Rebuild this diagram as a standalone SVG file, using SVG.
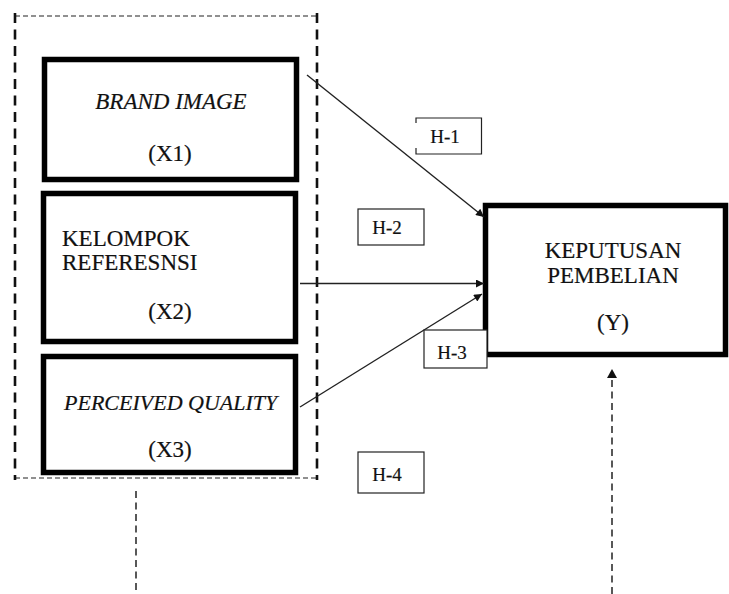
<svg xmlns="http://www.w3.org/2000/svg" width="729" height="594" viewBox="0 0 729 594">
<defs>
<style>
.box{fill:#fff;stroke:#000;stroke-width:5.5}
.hbox{fill:#fff;stroke:#222;stroke-width:1.2}
.t{font-family:"Liberation Serif","Times New Roman",serif;font-size:23px;fill:#111;stroke:#111;stroke-width:0.2}
.it{font-style:italic}
.h{font-family:"Liberation Serif","Times New Roman",serif;font-size:19px;fill:#111;stroke:#111;stroke-width:0.2;text-anchor:middle}
.mid{text-anchor:middle}
.arr{stroke:#222;stroke-width:1.4;fill:none;marker-end:url(#ah)}
.dthin{stroke:#222;stroke-width:1.2;fill:none;stroke-dasharray:5,3}
.dthick{stroke:#111;stroke-width:2.6;fill:none;stroke-dasharray:10,6.5}
.dv{stroke:#222;stroke-width:1.5;fill:none;stroke-dasharray:7,4.5}
</style>
<marker id="ah" viewBox="0 0 10 10" refX="10" refY="5" markerWidth="10" markerHeight="8" markerUnits="userSpaceOnUse" orient="auto">
<path d="M0,0 L10,5 L0,10 z" fill="#111"/>
</marker>
</defs>

<g id="group-frame">
<line class="dthin" x1="15" y1="16" x2="317" y2="16"/>
<line class="dthin" x1="15" y1="478" x2="317" y2="478"/>
<line class="dthick" x1="15" y1="13" x2="15" y2="480"/>
<line class="dthick" x1="317" y1="13" x2="317" y2="480"/>
</g>

<g id="node-x1">
<rect class="box" x="44.5" y="59.5" width="252" height="120"/>
<text class="t it mid" x="171" y="109">BRAND IMAGE</text>
<text class="t mid" x="170" y="161">(X1)</text>
</g>

<g id="node-x2">
<rect class="box" x="43.5" y="193.5" width="252" height="148"/>
<text class="t" x="62" y="246">KELOMPOK</text>
<text class="t" x="62" y="270">REFERESNSI</text>
<text class="t mid" x="170" y="319">(X2)</text>
</g>

<g id="node-x3">
<rect class="box" x="43.5" y="356.5" width="252" height="116"/>
<text class="t it" x="64" y="410" style="font-size:22px">PERCEIVED QUALITY</text>
<text class="t mid" x="170" y="457">(X3)</text>
</g>

<g id="node-y">
<rect class="box" x="485.5" y="205.5" width="240" height="149"/>
<text class="t mid" x="613" y="258">KEPUTUSAN</text>
<text class="t mid" x="613" y="283">PEMBELIAN</text>
<text class="t mid" x="613" y="330">(Y)</text>
</g>

<g id="connectors">
<line class="arr" x1="307" y1="75" x2="484" y2="217"/>
<line class="arr" x1="300" y1="283.5" x2="484" y2="283.5"/>
<line class="arr" x1="300" y1="407" x2="482" y2="294"/>
<line class="dv" x1="136" y1="491" x2="136" y2="594"/>
<line class="dv" x1="612" y1="594" x2="612" y2="380"/>
<path d="M607,378 L612,369 L617,378 z" fill="#111"/>
</g>

<g id="label-h1">
<path class="hbox" d="M416,123 L416,118 L481.5,118 L481.5,154 L416,154 L416,148"/>
<text class="h" x="445" y="143">H-1</text>
</g>
<g id="label-h2">
<rect class="hbox" x="358" y="209" width="66" height="36"/>
<text class="h" x="387" y="234">H-2</text>
</g>
<g id="label-h3">
<rect class="hbox" x="424" y="330" width="63" height="38"/>
<text class="h" x="452" y="359">H-3</text>
</g>
<g id="label-h4">
<rect class="hbox" x="358" y="452" width="66" height="41"/>
<text class="h" x="387" y="481">H-4</text>
</g>
</svg>
